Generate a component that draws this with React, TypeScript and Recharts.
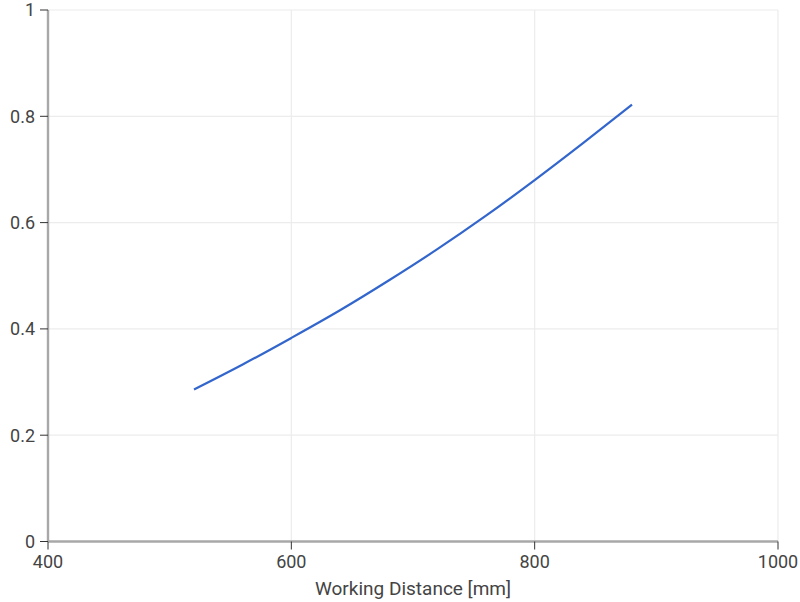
import { LineChart, Line, XAxis, YAxis, CartesianGrid } from "recharts"

// working distance [mm] and value
const distances = [520, 560, 600, 640, 680, 720, 760, 800, 840, 880]
const values = [0.286, 0.333, 0.383, 0.435, 0.491, 0.55, 0.613, 0.68, 0.75, 0.822]

const xTicks = [400, 600, 800, 1000]
const yTicks = [0, 0.2, 0.4, 0.6, 0.8, 1]

const data = distances.map((d, i) => ({ wd: d, v: values[i] }))

const font = "Roboto, 'Liberation Sans', Arial, sans-serif"
const tick = { fontSize: 18, fill: "#444", fontFamily: font }

export default function App() {
  return (
    <div style={{ position: "absolute", left: 0, top: 0, width: 800, height: 602, background: "#fff" }}>
      <LineChart width={800} height={602} data={data} margin={{ top: 10, right: 22, left: 0, bottom: 0 }}>
        <CartesianGrid stroke="#ececec" strokeWidth={1.2} />
        <XAxis
          type="number"
          dataKey="wd"
          domain={[400, 1000]}
          ticks={xTicks}
          height={60.5}
          tick={tick}
          tickSize={8}
          tickMargin={6}
          tickLine={{ stroke: "#333" }}
          axisLine={{ stroke: "#a8a8a8", strokeWidth: 2.4 }}
          interval={0}
          label={{
            value: "Working Distance [mm]",
            position: "insideBottom",
            offset: 7,
            fontSize: 19,
            fill: "#444",
            fontFamily: font,
          }}
        />
        <YAxis
          type="number"
          domain={[0, 1]}
          ticks={yTicks}
          width={48}
          tick={tick}
          tickSize={8}
          tickMargin={5}
          tickLine={{ stroke: "#333" }}
          axisLine={{ stroke: "#a8a8a8", strokeWidth: 2.4 }}
          interval={0}
        />
        <Line
          type="monotone"
          dataKey="v"
          stroke="#3366cc"
          strokeWidth={2.2}
          dot={false}
          isAnimationActive={false}
        />
      </LineChart>
    </div>
  )
}
